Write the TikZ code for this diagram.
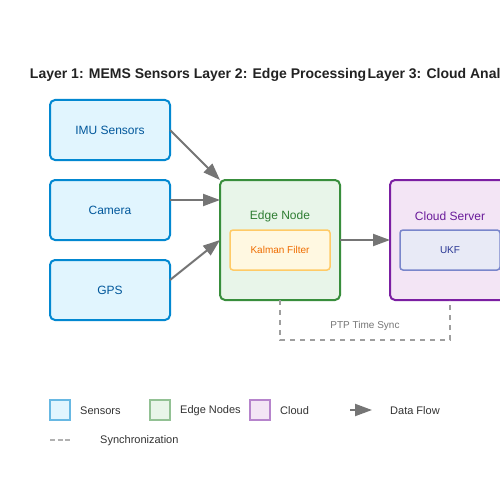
\documentclass[tikz,border=0pt]{standalone}
\usepackage{fontspec}
\setmainfont{Liberation Sans}
\usetikzlibrary{arrows.meta,positioning,calc}
\definecolor{sensfill}{HTML}{E1F5FE}
\definecolor{sensdraw}{HTML}{0288D1}
\definecolor{senstext}{HTML}{01579B}
\definecolor{edgefill}{HTML}{E8F5E9}
\definecolor{edgedraw}{HTML}{388E3C}
\definecolor{edgetext}{HTML}{2E7D32}
\definecolor{cloudfill}{HTML}{F3E5F5}
\definecolor{clouddraw}{HTML}{7B1FA2}
\definecolor{cloudtext}{HTML}{6A1B9A}
\definecolor{kalfill}{HTML}{FFF8E1}
\definecolor{kaldraw}{HTML}{FFCA66}
\definecolor{kaltext}{HTML}{EF6C00}
\definecolor{ukffill}{HTML}{E8EAF6}
\definecolor{ukfdraw}{HTML}{7986CB}
\definecolor{ukftext}{HTML}{283593}
\definecolor{flowgray}{HTML}{757575}
\definecolor{syncgray}{HTML}{9E9E9E}
\definecolor{headtext}{HTML}{222222}
\definecolor{legtext}{HTML}{333333}
\tikzset{
  box/.style={rectangle, rounded corners=5pt, line width=2pt, minimum width=120pt, minimum height=60pt, inner sep=0pt, outer sep=0pt, font=\fontsize{12}{14}\selectfont},
  sensorbox/.style={box, fill=sensfill, draw=sensdraw, text=senstext},
  edgebox/.style={box, minimum height=120pt, fill=edgefill, draw=edgedraw},
  cloudbox/.style={box, minimum height=120pt, fill=cloudfill, draw=clouddraw},
  innerbox/.style={rectangle, rounded corners=3pt, line width=1.5pt, minimum width=100pt, minimum height=40pt, inner sep=0pt, outer sep=0pt, font=\fontsize{10}{12}\selectfont},
  header/.style={font=\fontsize{14}{16}\selectfont\bfseries, text=headtext, inner sep=0pt},
  flow/.style={draw=flowgray, line width=2pt, -{Triangle[length=17pt,width=12pt]}},
  sync/.style={draw=syncgray, line width=1.5pt, dash pattern=on 5pt off 5pt},
  legsq/.style={rectangle, minimum width=20pt, minimum height=20pt, inner sep=0pt, line width=1.5pt},
  legtxt/.style={font=\fontsize{11}{13}\selectfont, text=legtext, anchor=west, inner sep=0pt},
}
\begin{document}
\begin{tikzpicture}[x=1pt,y=-1pt]
\useasboundingbox (0,0) rectangle (500,500);
\clip (0,0) rectangle (500,500);
\fill[white] (0,0) rectangle (500,500);
% headers
\node[header] (h1) at (110,75) {Layer 1: MEMS Sensors};
\node[header] (h2) at (280,75) {Layer 2: Edge Processing};
\node[header] (h3) at (450,75) {Layer 3: Cloud Analytics};
% sensors
\node[sensorbox] (imu) at (110,130) {IMU Sensors};
\node[sensorbox] (cam) at (110,210) {Camera};
\node[sensorbox] (gps) at (110,290) {GPS};
% edge
\node[edgebox] (edge) at (280,240) {};
\node[text=edgetext, font=\fontsize{12}{14}\selectfont, inner sep=0pt] (edgelbl) at (280,216) {Edge Node};
\node[innerbox, fill=kalfill, draw=kaldraw, text=kaltext] (kal) at (280,250) {Kalman Filter};
% cloud
\node[cloudbox] (cloud) at (450,240) {};
\node[text=cloudtext, font=\fontsize{12}{14}\selectfont, inner sep=0pt] (cloudlbl) at (450,216) {Cloud Server};
\node[innerbox, fill=ukffill, draw=ukfdraw, text=ukftext] (ukf) at (450,250) {UKF};
% flows
\draw[flow] (imu.east) -- (edge.north west);
\draw[flow] ([yshift=10pt]cam.east) -- ([yshift=-20pt]edge.north west);
\draw[flow] ([yshift=10pt]gps.east) -- (edge.west);
\draw[flow] (edge.east) -- (cloud.west);
% sync
\coordinate (s1) at (280,340);
\coordinate (s2) at (450,340);
\draw[sync] (edge.south) -- (s1) -- (s2) -- (cloud.south);
\node[font=\fontsize{10}{12}\selectfont, text=flowgray, inner sep=0pt] (ptp) at (365,326) {PTP Time Sync};
% legend
\node[legsq, fill=sensfill, draw=sensdraw!60] (l1) at (60,410) {};
\node[legtxt] (l1t) at (80,411) {Sensors};
\node[legsq, fill=edgefill, draw=edgedraw!55] (l2) at (160,410) {};
\node[legtxt] (l2t) at (180,411) {Edge Nodes};
\node[legsq, fill=cloudfill, draw=clouddraw!55] (l3) at (260,410) {};
\node[legtxt] (l3t) at (280,411) {Cloud};
\coordinate (la1) at (350,410);
\coordinate (la2) at (372,410);
\draw[flow] (la1) -- (la2);
\node[legtxt] (l4t) at (390,411) {Data Flow};
\coordinate (ld1) at (50,440);
\coordinate (ld2) at (70,440);
\draw[draw=syncgray!80, line width=1.5pt, dash pattern=on 5pt off 2.5pt] (ld1) -- (ld2);
\node[legtxt] (l5t) at (100,441) {Synchronization};
\end{tikzpicture}
\end{document}
